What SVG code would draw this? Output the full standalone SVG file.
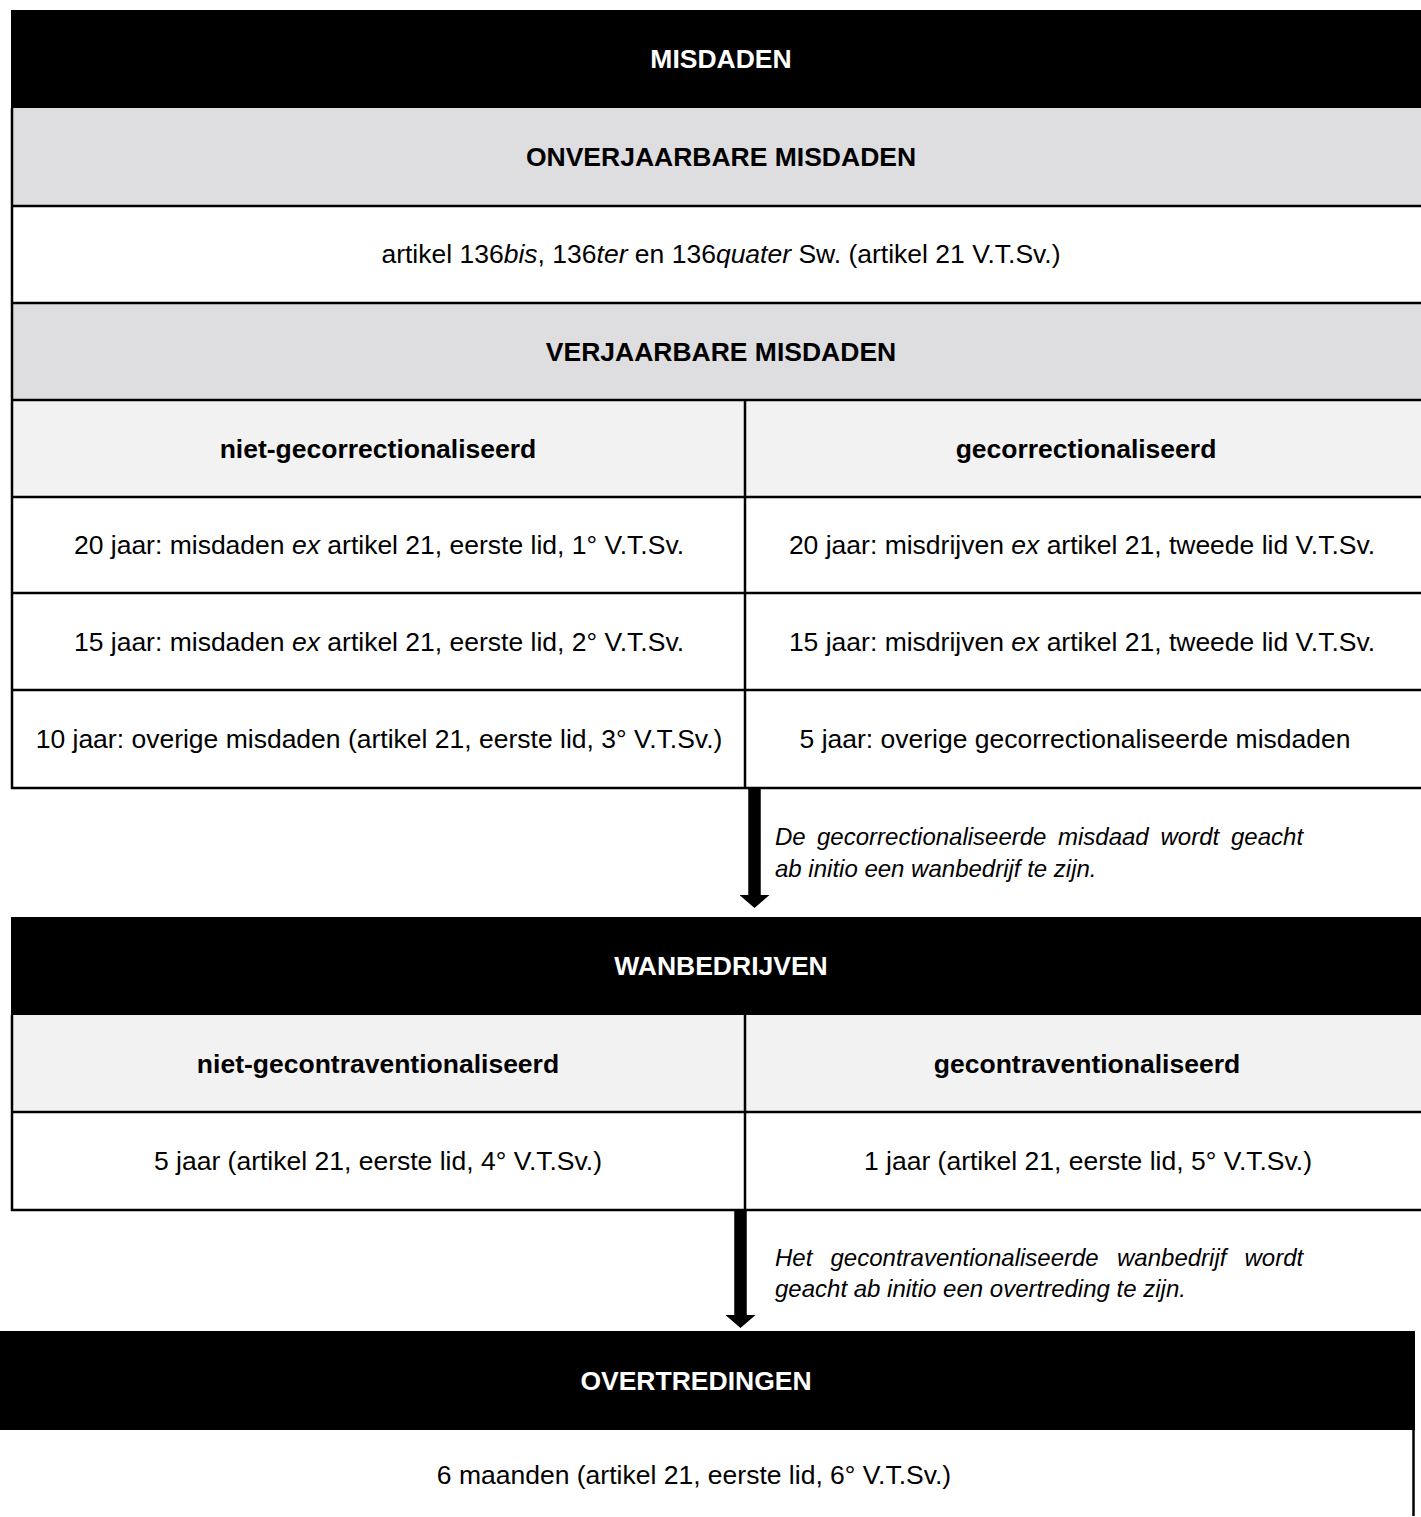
<svg xmlns="http://www.w3.org/2000/svg" width="1421" height="1517" viewBox="0 0 1421 1517">
<style>
text { font-family: "Liberation Sans", Arial, sans-serif; font-size: 26.5px; fill: #000; text-anchor: middle; }
.b { font-weight: bold; }
.w { fill: #fff; }
.i { font-style: italic; }
.note { font-size: 24px; font-style: italic; text-anchor: start; fill: #000; }
.band { fill: #000; }
.grey { fill: #dedee0; }
.light { fill: #f2f2f2; }
.white { fill: #fff; }
.ln { stroke: #000; stroke-width: 2.5; fill: none; }
.arrow { stroke: #000; stroke-width: 12.5; fill: none; }
</style>
<defs>
<marker id="head" markerUnits="userSpaceOnUse" markerWidth="14" markerHeight="30" refX="0" refY="15" orient="auto">
<path d="M0,0 L13,15 L0,30 z" fill="#000"/>
</marker>
</defs>
<rect width="1421" height="1517" fill="#fff"/>

<g id="misdaden">
<rect class="band" x="11" y="10" width="1410" height="98"/>
<text class="b w" x="721" y="68">MISDADEN</text>
</g>

<g id="onverjaarbaar">
<rect class="grey" x="12" y="108" width="1409" height="98"/>
<text class="b" x="721" y="166">ONVERJAARBARE MISDADEN</text>
</g>

<g id="onverjaarbaar-artikel">
<rect class="white" x="12" y="206" width="1409" height="97"/>
<text x="721" y="263">artikel 136<tspan class="i">bis</tspan>, 136<tspan class="i">ter</tspan> en 136<tspan class="i">quater</tspan> Sw. (artikel 21 V.T.Sv.)</text>
</g>

<g id="verjaarbaar">
<rect class="grey" x="12" y="303" width="1409" height="97"/>
<text class="b" x="721" y="361">VERJAARBARE MISDADEN</text>
</g>

<g id="niet-gecorrectionaliseerd">
<rect class="light" x="12" y="400" width="733" height="97"/>
<text class="b" x="378" y="458">niet-gecorrectionaliseerd</text>
<text x="379" y="554">20 jaar: misdaden <tspan class="i">ex</tspan> artikel 21, eerste lid, 1° V.T.Sv.</text>
<text x="379" y="651">15 jaar: misdaden <tspan class="i">ex</tspan> artikel 21, eerste lid, 2° V.T.Sv.</text>
<text x="379" y="748">10 jaar: overige misdaden (artikel 21, eerste lid, 3° V.T.Sv.)</text>
</g>

<g id="gecorrectionaliseerd">
<rect class="light" x="745" y="400" width="676" height="97"/>
<text class="b" x="1086" y="458">gecorrectionaliseerd</text>
<text x="1082" y="554">20 jaar: misdrijven <tspan class="i">ex</tspan> artikel 21, tweede lid V.T.Sv.</text>
<text x="1082" y="651">15 jaar: misdrijven <tspan class="i">ex</tspan> artikel 21, tweede lid V.T.Sv.</text>
<text x="1075" y="748">5 jaar: overige gecorrectionaliseerde misdaden</text>
</g>

<g id="misdaden-lines">
<line class="ln" x1="12" y1="108" x2="12" y2="789"/>
<line class="ln" x1="12" y1="206" x2="1421" y2="206"/>
<line class="ln" x1="12" y1="303" x2="1421" y2="303"/>
<line class="ln" x1="12" y1="400" x2="1421" y2="400"/>
<line class="ln" x1="12" y1="497" x2="1421" y2="497"/>
<line class="ln" x1="12" y1="593" x2="1421" y2="593"/>
<line class="ln" x1="12" y1="690" x2="1421" y2="690"/>
<line class="ln" x1="11" y1="788" x2="1421" y2="788"/>
<line class="ln" x1="745" y1="400" x2="745" y2="788"/>
</g>

<g id="wanbedrijven">
<rect class="band" x="11" y="917" width="1410" height="98"/>
<text class="b w" x="721" y="975">WANBEDRIJVEN</text>
</g>

<g id="niet-gecontraventionaliseerd">
<rect class="light" x="12" y="1015" width="733" height="97"/>
<text class="b" x="378" y="1073">niet-gecontraventionaliseerd</text>
<text x="378" y="1170">5 jaar (artikel 21, eerste lid, 4° V.T.Sv.)</text>
</g>

<g id="gecontraventionaliseerd">
<rect class="light" x="745" y="1015" width="676" height="97"/>
<text class="b" x="1087" y="1073">gecontraventionaliseerd</text>
<text x="1088" y="1170">1 jaar (artikel 21, eerste lid, 5° V.T.Sv.)</text>
</g>

<g id="wanbedrijven-lines">
<line class="ln" x1="12" y1="1015" x2="12" y2="1211"/>
<line class="ln" x1="12" y1="1112" x2="1421" y2="1112"/>
<line class="ln" x1="11" y1="1210" x2="1421" y2="1210"/>
<line class="ln" x1="745" y1="1015" x2="745" y2="1210"/>
</g>

<g id="overtredingen">
<rect class="band" x="0" y="1331" width="1415" height="99"/>
<text class="b w" x="696" y="1390">OVERTREDINGEN</text>
<text x="694" y="1484">6 maanden (artikel 21, eerste lid, 6° V.T.Sv.)</text>
<line class="ln" x1="1413.5" y1="1430" x2="1413.5" y2="1516"/>
</g>

<g id="connectors">
<line class="arrow" x1="754.5" y1="788" x2="754.5" y2="895" marker-end="url(#head)"/>
<text class="note" y="845"><tspan x="775">De</tspan><tspan x="817">gecorrectionaliseerde</tspan><tspan x="1058">misdaad</tspan><tspan x="1160.5">wordt</tspan><tspan x="1231">geacht</tspan></text>
<text class="note" x="775" y="877">ab initio een wanbedrijf te zijn.</text>
<line class="arrow" x1="740.5" y1="1210" x2="740.5" y2="1315" marker-end="url(#head)"/>
<text class="note" y="1266"><tspan x="775">Het</tspan><tspan x="830.5">gecontraventionaliseerde</tspan><tspan x="1117">wanbedrijf</tspan><tspan x="1244.5">wordt</tspan></text>
<text class="note" x="775" y="1297">geacht ab initio een overtreding te zijn.</text>
</g>
</svg>
